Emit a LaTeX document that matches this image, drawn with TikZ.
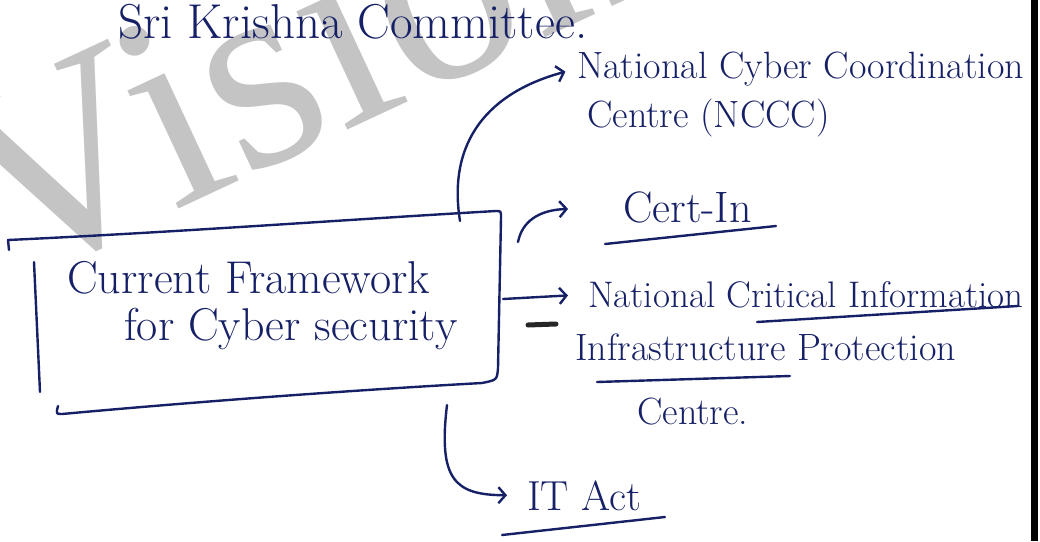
\documentclass[tikz,border=0pt]{standalone}
\usepackage{fontspec}
\usetikzlibrary{arrows.meta}
\newfontfamily\markfont{Liberation Serif}
\definecolor{ink}{RGB}{22,32,102}
\definecolor{wmark}{RGB}{196,196,196}
\tikzset{
  pen/.style={draw=ink, line width=2.4pt, line cap=round, line join=round},
  flow/.style={pen, -{Straight Barb[length=7pt,width=16pt,line width=2.4pt]}},
  hand/.style={text=ink, inner sep=0pt, anchor=base west, font=\fontsize{38}{44}\selectfont},
  boxtext/.style={hand, font=\fontsize{46}{52}\selectfont},
}
\begin{document}
\begin{tikzpicture}[x=1pt,y=-1pt]
\useasboundingbox (0,0) rectangle (1040,541);
\node[text=wmark, font=\markfont\fontsize{280}{280}\selectfont, rotate=25, anchor=base west, inner sep=0pt] (stamp) at (5,290) {Vision};
\node[hand, font=\fontsize{49}{54}\selectfont] (title) at (118,38) {Sri Krishna Committee.};
\draw[pen] (9,250) -- (8,240) .. controls (180,232) and (340,220) .. (496,211) .. controls (501,211) .. (501,218) -- (498,368) .. controls (497,380) .. (482,383) .. controls (320,392) and (160,405) .. (62,414) .. controls (56,414) .. (58,406);
\draw[pen] (34,262) -- (40,392);
\node[boxtext] (frame1) at (67,293) {Current Framework};
\node[boxtext] (frame2) at (124,340) {for Cyber security};
\coordinate (boxtop) at (460,221);
\coordinate (boxright) at (503,299);
\coordinate (certfoot) at (518,242);
\coordinate (boxbottom) at (447,405);
\node[hand] (nccc1) at (577,78) {National Cyber Coordination};
\node[hand] (nccc2) at (587,127) {Centre (NCCC)};
\node[hand, font=\fontsize{44}{50}\selectfont] (cert) at (623,222) {Cert-In};
\node[hand, font=\fontsize{37}{44}\selectfont] (nciipc1) at (588,307) {National Critical Information};
\node[hand] (nciipc2) at (575,360) {Infrastructure Protection};
\node[hand] (nciipc3) at (637,424) {Centre.};
\node[hand, font=\fontsize{42}{48}\selectfont] (itact) at (527,510) {IT Act};
\draw[flow, shorten >=12pt] (boxtop) .. controls (447,140) and (490,92) .. (nccc1.west);
\draw[flow, shorten >=55pt] (certfoot) .. controls (522,222) and (538,210) .. (cert.west);
\draw[flow, shorten >=20pt] (boxright) -- (nciipc1.west);
\draw[flow, shorten >=20pt] (boxbottom) .. controls (438,480) and (455,495) .. (itact.west);
\draw[pen] (605,244) -- (776,226);
\draw[pen] (757,322) -- (1018,306);
\draw[pen] (597,382) -- (790,376);
\draw[pen] (502,535) -- (665,517);
\draw[line width=5pt, line cap=round, black!85] (528,325) -- (556,324);
\draw[line width=7pt, black] (1034,0) -- (1034,541);
\end{tikzpicture}
\end{document}
